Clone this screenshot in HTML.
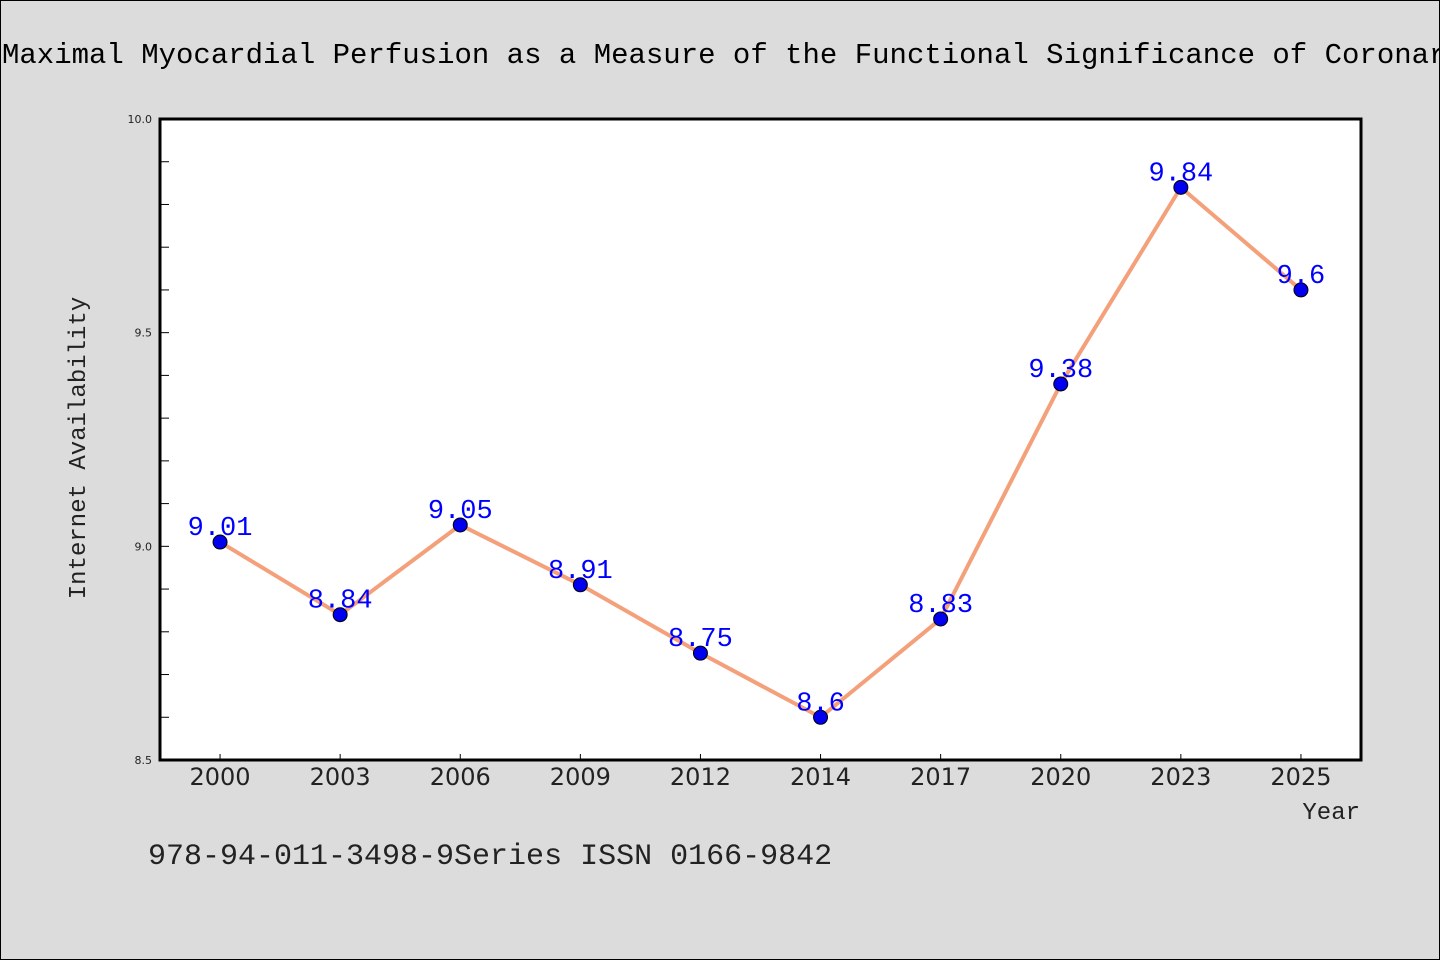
<!DOCTYPE html>
<html><head><meta charset="utf-8">
<style>
html,body{margin:0;padding:0;background:#dcdcdc;}
svg{display:block;font-family:"Liberation Mono",monospace;}
</style></head>
<body>
<svg id="chart" width="1440" height="960" viewBox="0 0 1440 960">
<rect x="0.5" y="0.5" width="1439" height="959" fill="#dcdcdc" stroke="#000" stroke-width="1"/>
<text x="2" y="63" font-size="29" text-anchor="start" fill="#000">Maximal Myocardial Perfusion as a Measure of the Functional Significance of Coronary Arteriogram</text>
<rect x="160" y="119" width="1201" height="641" fill="#fff"/>
<g id="ticks"></g>
<g id="series"></g>
<rect x="160" y="119" width="1201" height="641" fill="none" stroke="#000" stroke-width="3"/>
<text transform="translate(85,448) rotate(-90)" font-size="24" text-anchor="middle" fill="#222">Internet Availability</text>
<text x="1360" y="819" font-size="24" text-anchor="end" fill="#222">Year</text>
<text x="148" y="864" font-size="30" fill="#222">978-94-011-3498-9Series ISSN 0166-9842</text>
</svg>
<script>
const categories=["2000","2003","2006","2009","2012","2014","2017","2020","2023","2025"];
const values=[9.01,8.84,9.05,8.91,8.75,8.6,8.83,9.38,9.84,9.6];
const yTickLabels=["8.5","9.0","9.5","10.0"];
const NS="http://www.w3.org/2000/svg";
const L=160,R=1361,T=119,B=760,yMin=8.5,yMax=10;
const step=(R-L)/categories.length;
function xs(i){return L+step*(i+0.5);}
function ys(v){return B-(v-yMin)/(yMax-yMin)*(B-T);}
function mk(tag,attrs,parent){const e=document.createElementNS(NS,tag);for(const k in attrs)e.setAttribute(k,attrs[k]);parent.appendChild(e);return e;}
const tg=document.getElementById('ticks');
for(let k=1;k<15;k++){const v=yMin+k*0.1;const y=ys(v);
 const t=mk('line',{x1:L,x2:L+9,y1:y,y2:y,stroke:'#000','stroke-width':1},tg);
 
 }
yTickLabels.forEach(s=>{const t=mk('text',{x:L-8,y:ys(parseFloat(s))+4,'font-size':11,'text-anchor':'end',fill:'#222','font-family':'DejaVu Sans, sans-serif'},tg);t.textContent=s;
 
 });
categories.forEach((c,i)=>{const x=xs(i);
 const tk=mk('line',{x1:x,x2:x,y1:B,y2:B-6,stroke:'#000','stroke-width':1},tg);
 
 
 const t=mk('text',{x:x,y:B+25,'font-size':24,'text-anchor':'middle',fill:'#222','font-family':'DejaVu Sans, sans-serif'},tg);t.textContent=c;
 
 });
const sg=document.getElementById('series');
const pl=mk('polyline',{points:values.map((v,i)=>xs(i)+','+ys(v)).join(' '),fill:'none',stroke:'#f4a07a','stroke-width':4},sg);


values.forEach((v,i)=>{
 const c=mk('circle',{cx:xs(i),cy:ys(v),r:7,fill:'#0000ee',stroke:'#000','stroke-width':1},sg);
 
 
 const t=mk('text',{x:xs(i),y:ys(v)-7,'font-size':27,'text-anchor':'middle',fill:'#0000ff'},sg);t.textContent=String(v);
 
 });
</script>
</body></html>
